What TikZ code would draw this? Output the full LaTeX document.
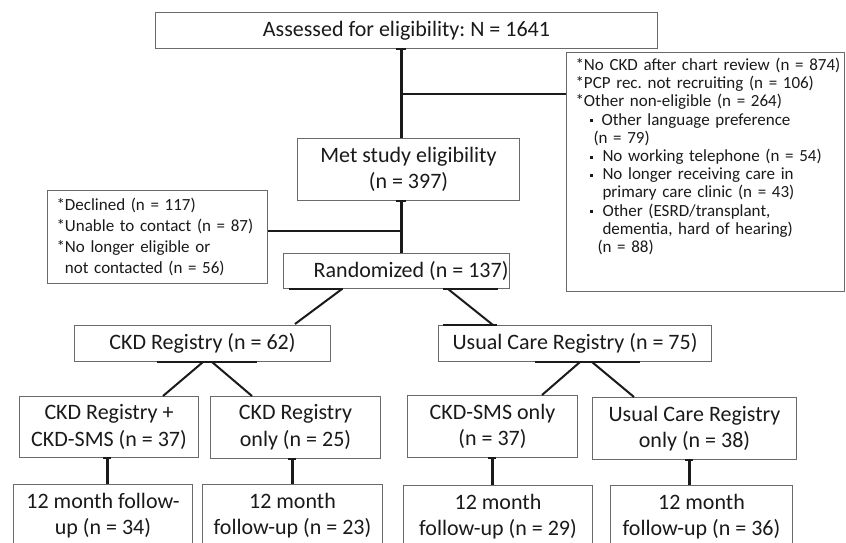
\documentclass[tikz,border=0pt]{standalone}
\usepackage{fontspec}
\setmainfont{Carlito}
\usetikzlibrary{calc}
\definecolor{boxgray}{HTML}{6A6A6A}
\definecolor{conn}{HTML}{1A1A1A}
\definecolor{txt}{HTML}{1A1A1A}
\newcommand\sqbul{\rule[3pt]{3pt}{3pt}}
\frenchspacing
\begin{document}
\begin{tikzpicture}[x=1pt,y=-1pt,
  box/.style={draw=boxgray, line width=1pt, inner sep=0pt, align=center, text=txt,
    font=\fontsize{22}{26.7}\selectfont, anchor=north west},
  side/.style={draw=boxgray, line width=1pt, inner xsep=9pt, inner ysep=0pt, align=left,
    text=txt, anchor=north west},
  link/.style={draw=conn, line width=3pt},
  hlink/.style={draw=conn, line width=2.7pt},
  diag/.style={draw=conn, line width=2pt},
  seg/.style={draw=conn, line width=2.4pt},
  tbar/.style={draw=conn, line width=1.6pt},
]
\useasboundingbox[fill=white] (0,0) rectangle (846,542);

% boxes
\node[box, minimum width=502pt, minimum height=36pt] (A) at (155,12) {Assessed for eligibility: N = 1641};
\node[box, minimum width=222pt, minimum height=62pt] (met) at (297,138) {Met study eligibility\\(n = 397)};
\node[side, text width=260pt, text height=18pt, text depth=221pt,
      font=\fontsize{17}{18.2}\selectfont] (rb) at (566,52)
  {\mbox{*No CKD after chart review (n = 874)}\\{}*PCP rec. not recruiting (n = 106)\\{}*Other non-eligible (n = 264)\\
   \hspace*{14pt}\sqbul\hspace*{9pt}Other language preference\\
   \hspace*{18pt}(n = 79)\\
   \hspace*{14pt}\sqbul\hspace*{10pt}No working telephone (n = 54)\\
   \hspace*{14pt}\sqbul\hspace*{10pt}No longer receiving care in\\
   \hspace*{27pt}primary care clinic (n = 43)\\
   \hspace*{14pt}\sqbul\hspace*{10pt}Other (ESRD/transplant,\\
   \hspace*{27pt}dementia, hard of hearing)\\
   \hspace*{22pt}(n = 88)};
\node[side, text width=202pt, minimum height=93pt,
      font=\fontsize{17}{20.8}\selectfont] (lb) at (47,190)
  {*Declined (n = 117)\\{}*Unable to contact (n = 87)\\{}*No longer eligible or\\\phantom{*}not contacted (n = 56)};
\node[box, minimum width=226pt, minimum height=35pt] (rand) at (283,253) {\makebox[224pt][r]{Randomized (n = 137)}};
\node[box, minimum width=256pt, minimum height=36pt] (ckd) at (74,325) {CKD Registry (n = 62)};
\node[box, minimum width=273pt, minimum height=36pt] (uc) at (438,325) {Usual Care Registry (n = 75)};
\node[box, minimum width=179pt, minimum height=61pt] (r3a) at (19,396) {CKD Registry +\\CKD-SMS (n = 37)};
\node[box, minimum width=170pt, minimum height=62pt] (r3b) at (210,396) {CKD Registry\\only (n = 25)};
\node[box, minimum width=170pt, minimum height=62pt] (r3c) at (407,395) {CKD-SMS only\\(n = 37)};
\node[box, minimum width=204pt, minimum height=62pt] (r3d) at (592,397) {Usual Care Registry\\only (n = 38)};
\node[box, minimum width=179pt, minimum height=62pt] (r4a) at (13,484) {12 month follow-\\up (n = 34)};
\node[box, minimum width=180pt, minimum height=62pt] (r4b) at (202,484) {12 month\\follow-up (n = 23)};
\node[box, minimum width=189pt, minimum height=62pt] (r4c) at (403,485) {12 month\\follow-up (n = 29)};
\node[box, minimum width=182pt, minimum height=62pt] (r4d) at (610,485) {12 month\\follow-up (n = 36)};

% top connectors
\coordinate (j1) at (401,94);
\draw[link] (A.south -| j1) -- (met.north -| j1);
\draw[hlink] (j1) -- (j1 -| rb.west);
\draw[tbar] ($(A.south -| j1)+(-5,0)$) -- ($(A.south -| j1)+(5,0)$);
\coordinate (j2) at (401,231);
\draw[link] (met.south -| j2) -- (rand.north -| j2);
\draw[hlink] (j2) -- (j2 -| lb.east);
\draw[tbar] ($(met.south -| j2)+(-5,0)$) -- ($(met.south -| j2)+(5,0)$);

% randomized -> registries
\draw[seg] ($(rand.south west)+(6,0)$) -- ($(rand.south west)+(60,0)$);
\draw[diag] ($(rand.south west)+(59,0)$) -- ($(ckd.north west)+(221,-1)$);
\draw[seg] ($(rand.south west)+(160,0)$) -- ($(rand.south west)+(215,0)$);
\draw[diag] ($(rand.south west)+(165,0)$) -- ($(uc.north west)+(55,0)$);
\draw[seg] ($(uc.north west)+(5,0)$) -- ($(uc.north west)+(59,0)$);

% registries -> arms
\draw[seg] ($(ckd.south west)+(83,0)$) -- ($(ckd.south west)+(183,0)$);
\draw[diag] ($(ckd.south west)+(129,0)$) -- ($(r3a.north west)+(144,0)$);
\draw[diag] ($(ckd.south west)+(138,0)$) -- ($(r3b.north west)+(42,0)$);
\draw[seg] ($(uc.south west)+(97,0)$) -- ($(uc.south west)+(202,0)$);
\draw[diag] ($(uc.south west)+(142,0)$) -- ($(r3c.north west)+(135,0)$);
\draw[diag] ($(uc.south west)+(154,0)$) -- ($(r3d.north west)+(42,0)$);

% arms -> follow-up
\coordinate (v1) at ($(r3a.south west)+(88,0)$);
\coordinate (v2) at ($(r3b.south west)+(82,0)$);
\coordinate (v3) at ($(r3c.south west)+(85,0)$);
\coordinate (v4) at ($(r3d.south west)+(97,0)$);
\draw[link] (v1) -- (v1 |- r4a.north);
\draw[link] (v2) -- (v2 |- r4b.north);
\draw[link] (v3) -- (v3 |- r4c.north);
\draw[link] (v4) -- (v4 |- r4d.north);
\foreach \v in {v1,v2,v3,v4}
  \draw[tbar] ($(\v)+(-4,0)$) -- ($(\v)+(4,0)$);
\end{tikzpicture}
\end{document}
